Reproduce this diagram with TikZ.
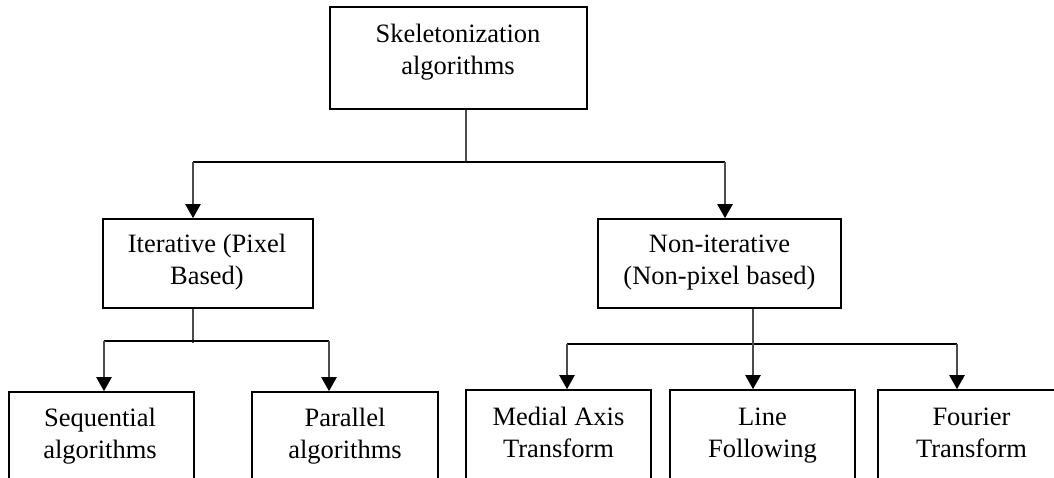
\documentclass[tikz,border=0pt]{standalone}
\usepackage{fontspec}
\setmainfont{Liberation Serif}
\usetikzlibrary{arrows.meta}
\tikzset{
  box/.style={draw=black, line width=1.6pt, rectangle, inner sep=0pt},
  txt/.style={align=center, inner sep=0pt, font=\fontsize{26.5}{32}\selectfont},
  vconn/.style={draw=black!70, line width=2.2pt},
  hconn/.style={draw=black, line width=1.4pt},
  arr/.style={vconn, -{Triangle[length=14pt,width=15pt]}, arrows={-{Triangle[length=14pt,width=15pt,color=black]}}}
}
\begin{document}
\begin{tikzpicture}[x=1pt,y=-1pt]
\useasboundingbox (0,0) rectangle (1054,477);
\clip (0,0) rectangle (1054,477);
% boxes
\node[box, minimum width=257pt, minimum height=102pt] (top) at (458.5,58) {};
\node[box, minimum width=210pt, minimum height=89pt] (iter) at (208,263.5) {};
\node[box, minimum width=243pt, minimum height=89pt] (non) at (719.5,263.5) {};
\node[box, minimum width=185pt, minimum height=110pt] (seq) at (101.5,447) {};
\node[box, minimum width=186pt, minimum height=110pt] (par) at (345,447) {};
\node[box, minimum width=185pt, minimum height=110pt] (med) at (558.5,445) {};
\node[box, minimum width=185pt, minimum height=110pt] (lin) at (762.5,445) {};
\node[box, minimum width=187pt, minimum height=110pt] (fou) at (971.5,445) {};
% texts
\node[txt] (ttop) at (458,51.6) {\strut Skeletonization\\\strut algorithms};
\node[txt] (titer) at (207,262.3) {\strut Iterative (Pixel\\\strut Based)};
\node[txt] (tnon) at (719.5,262.3) {\strut Non-iterative\\\strut (Non-pixel based)};
\node[txt] (tseq) at (100,436) {\strut Sequential\\\strut algorithms};
\node[txt] (tpar) at (345,436) {\strut Parallel\\\strut algorithms};
\node[txt] (tmed) at (558.5,435) {\strut Medial Axis\\\strut Transform};
\node[txt] (tlin) at (762.5,435) {\strut Line\\\strut Following};
\node[txt] (tfou) at (971.5,435) {\strut Fourier\\\strut Transform};
% junctions
\coordinate (j1) at (466,162);
\coordinate (a1) at (193,162);
\coordinate (a2) at (725,162);
\coordinate (j2) at (193,343);
\coordinate (b1) at (104,341);
\coordinate (b2) at (329,341);
\coordinate (j3) at (753,344);
\coordinate (c1) at (567,344);
\coordinate (c3) at (957,344);
% connectors
\draw[vconn] (top.south -| j1) -- (j1);
\draw[hconn] (a1) -- (a2);
\draw[arr] (a1) -- (a1 |- iter.north);
\draw[arr] (a2) -- (a2 |- non.north);
\draw[vconn] (iter.south -| j2) -- (j2);
\draw[hconn] (b1) -- (b2);
\draw[arr] (b1) -- (b1 |- seq.north);
\draw[arr] (b2) -- (b2 |- par.north);
\draw[hconn] (c1) -- (c3);
\draw[arr] (non.south -| j3) -- (j3 |- lin.north);
\draw[arr] (c1) -- (c1 |- med.north);
\draw[arr] (c3) -- (c3 |- fou.north);
\end{tikzpicture}
\end{document}
